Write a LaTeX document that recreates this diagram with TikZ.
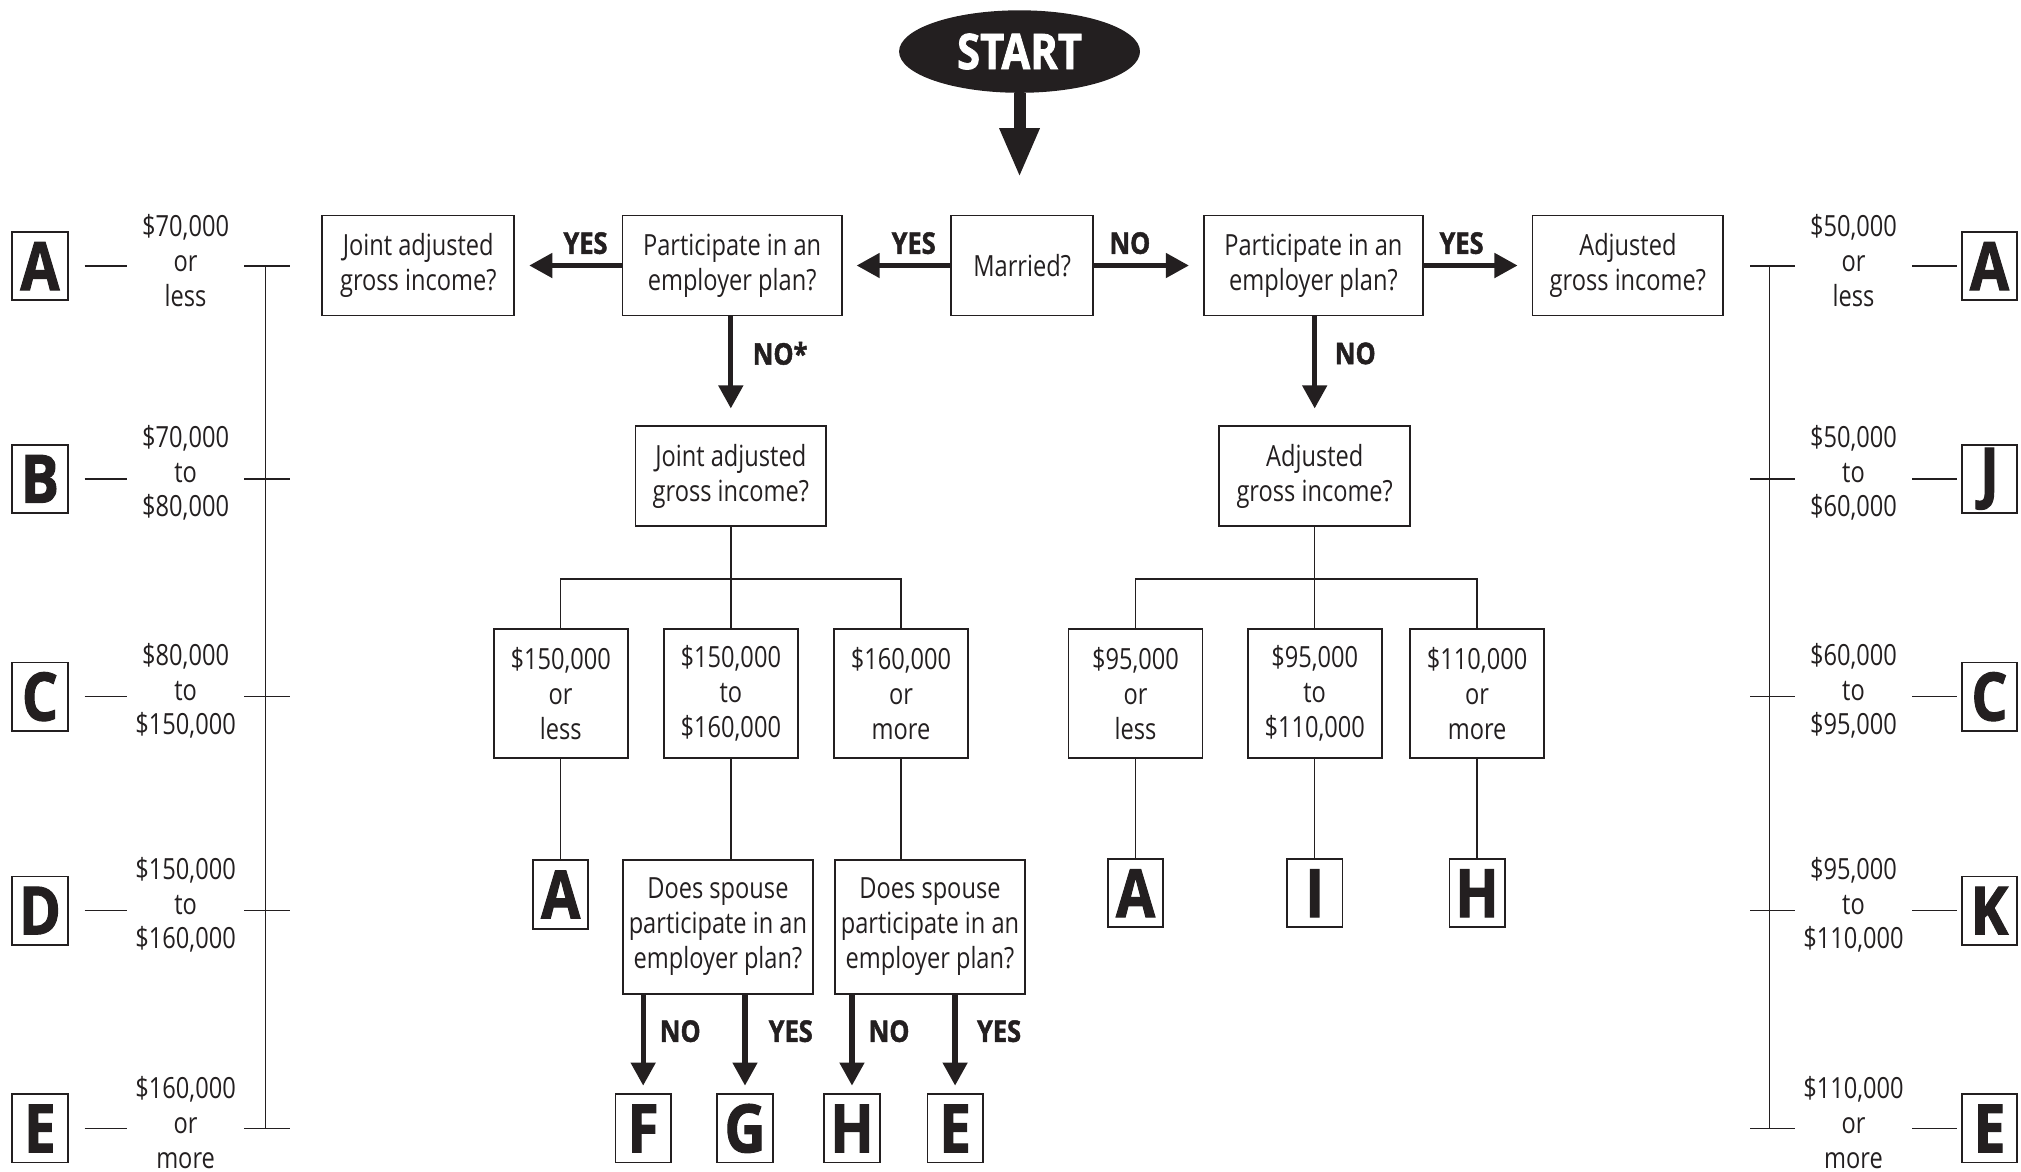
\documentclass[tikz,border=0pt]{standalone}
\usepackage{fontspec}
\usetikzlibrary{arrows.meta,positioning,shapes.geometric}
\newfontfamily\condfont{Open Sans}[FakeStretch=0.81]
\newfontfamily\heavyfont{Open Sans}[FakeStretch=0.85,FakeBold=1.5]
\definecolor{cInk}{HTML}{231F20}
\tikzset{
  box/.style ={draw=cInk,line width=0.5pt,align=center,inner sep=0pt,text=cInk,
               font=\condfont\fontsize{8.3}{9.9}\selectfont},
  qbox/.style={box,minimum height=1.0cm},
  ibox/.style={box,minimum width=1.341cm,minimum height=1.289cm},
  sbox/.style={box,minimum width=1.895cm,minimum height=1.341cm},
  lbox/.style={box,minimum width=0.554cm,minimum height=0.683cm,
               font=\heavyfont\bfseries\fontsize{19}{19}\selectfont},
  rng/.style ={align=center,inner sep=0pt,minimum width=1.16cm,text=cInk,
               font=\condfont\fontsize{8.3}{9.9}\selectfont},
  ar/.style  ={-{Triangle[length=6.6pt,width=6.8pt]},line width=1.5pt,cInk,shorten >=4pt},
  bigar/.style={-{Triangle[length=14pt,width=10.5pt]},line width=3.4pt,cInk,shorten >=10.6pt},
  ln/.style  ={line width=0.45pt,cInk},
  yn/.style  ={font=\heavyfont\bfseries\fontsize{8.5}{9}\selectfont,text=cInk,inner sep=1pt},
}

\begin{document}
\begin{tikzpicture}[x=0.01289cm,y=-0.01289cm]
\useasboundingbox (0,0) rectangle (1568,909);
% start and first questions
\node[ellipse,fill=cInk,minimum width=2.41cm,minimum height=0.825cm,inner sep=0pt,text=white,
      font=\heavyfont\bfseries\fontsize{14}{14}\selectfont] (start) at (791,40) {START};
\node[qbox,minimum width=1.418cm] (married) at (793,206) {Married?};
\node[qbox,minimum width=2.191cm] (partL) at (568,206) {Participate in an\\employer plan?};
\node[qbox,minimum width=1.921cm] (jointT) at (324.5,206) {Joint adjusted\\gross income?};
\node[qbox,minimum width=2.191cm] (partR) at (1019,206) {Participate in an\\employer plan?};
\node[qbox,minimum width=1.908cm] (adjT) at (1263,206) {Adjusted\\gross income?};
\draw[bigar] (start.south) -- (start.south |- married.north);
\draw[ar] (married) -- node[yn,pos=0.34,above=1.5pt]{YES} (partL);
\draw[ar] (partL) -- node[yn,pos=0.34,above=1.5pt]{YES} (jointT);
\draw[ar] (married) -- node[yn,pos=0.33,above=1.5pt]{NO} (partR);
\draw[ar] (partR) -- node[yn,pos=0.35,above=1.5pt]{YES} (adjT);

% not covered by a plan
\node[qbox,minimum width=1.908cm] (jointM) at (567,369.5) {Joint adjusted\\gross income?};
\node[qbox,minimum width=1.908cm] (adjM) at (1020,369.5) {Adjusted\\gross income?};
\draw[ar,shorten >=4.8pt] (partL.south -| jointM) -- node[yn,pos=0.34,right=4.5pt]{NO*} (jointM);
\draw[ar,shorten >=4.8pt] (partR.south -| adjM) -- node[yn,pos=0.34,right=4pt]{NO} (adjM);

% joint income ranges
\node[ibox] (incL1) at (435,538) {\$150,000\\or\\less};
\node[ibox] (incL2) at (567,538) {\$150,000\\to\\\$160,000};
\node[ibox] (incL3) at (699,538) {\$160,000\\or\\more};
\coordinate (barL) at (567,449);
\draw[ln] (jointM) -- (incL2);
\draw[ln] (incL1.north) |- (barL) -| (incL3.north);

% single income ranges
\node[ibox] (incR1) at (881,538) {\$95,000\\or\\less};
\node[ibox] (incR2) at (1020,538) {\$95,000\\to\\\$110,000};
\node[ibox] (incR3) at (1146,538) {\$110,000\\or\\more};
\coordinate (barR) at (1020,449);
\draw[ln] (adjM) -- (incR2);
\draw[ln] (incR1.north) |- (barR) -| (incR3.north);

% outcomes
\node[lbox] (lA) at (435,694) {A};
\node[sbox] (spL) at (557,719) {Does spouse\\participate in an\\employer plan?};
\node[sbox] (spR) at (721.5,719) {Does spouse\\participate in an\\employer plan?};
\draw[ln] (incL1) -- (lA);
\draw[ln] (incL2.south) -- (incL2.south |- spL.north);
\draw[ln] (incL3.south) -- (incL3.south |- spR.north);
\node[lbox] (rA) at (881,693) {A};
\node[lbox] (rI) at (1020,693) {I};
\node[lbox] (rH) at (1146,693) {H};
\draw[ln] (incR1) -- (rA);
\draw[ln] (incR2) -- (rI);
\draw[ln] (incR3) -- (rH);

\node[lbox] (lF) at (499,875.5) {F};
\node[lbox] (lG) at (578,875.5) {G};
\node[lbox] (lH) at (661,875.5) {H};
\node[lbox] (lE) at (741,875.5) {E};
\draw[ar,shorten >=2.2pt] (spL.south -| lF) -- node[yn,pos=0.37,right=3pt]{NO} (lF);
\draw[ar,shorten >=2.2pt] (spL.south -| lG) -- node[yn,pos=0.37,right=5pt]{YES} (lG);
\draw[ar,shorten >=2.2pt] (spR.south -| lH) -- node[yn,pos=0.37,right=3pt]{NO} (lH);
\draw[ar,shorten >=2.2pt] (spR.south -| lE) -- node[yn,pos=0.37,right=4.5pt]{YES} (lE);

% key, joint
\node[lbox] (kA) at (31,206.5) {A}; \node[rng] (vA) at (144,202) {\$70,000\\or\\less};
\node[lbox] (kB) at (31,371.5) {B}; \node[rng] (vB) at (144,367) {\$70,000\\to\\\$80,000};
\node[lbox] (kC) at (31,540.5) {C}; \node[rng] (vC) at (144,536) {\$80,000\\to\\\$150,000};
\node[lbox] (kD) at (31,706.5) {D}; \node[rng] (vD) at (144,702) {\$150,000\\to\\\$160,000};
\node[lbox] (kE) at (31,875.5) {E}; \node[rng] (vE) at (144,871) {\$160,000\\or\\more};
\coordinate (lbar) at (206,0);
\coordinate (ltick) at (225,0);
\foreach \k in {A,B,C,D,E}{
  \draw[ln,shorten <=4.6pt] (k\k.east) -- (k\k -| v\k.west);
  \draw[ln] (k\k -| v\k.east) -- (k\k -| ltick);
}
\draw[ln] (kA -| lbar) -- (kE -| lbar);

% key, single
\node[lbox] (jA) at (1543.5,206.5) {A}; \node[rng] (wA) at (1438,202) {\$50,000\\or\\less};
\node[lbox] (jJ) at (1543.5,371.5) {J}; \node[rng] (wJ) at (1438,367) {\$50,000\\to\\\$60,000};
\node[lbox] (jC) at (1543.5,540.5) {C}; \node[rng] (wC) at (1438,536) {\$60,000\\to\\\$95,000};
\node[lbox] (jK) at (1543.5,706.5) {K}; \node[rng] (wK) at (1438,702) {\$95,000\\to\\\$110,000};
\node[lbox] (jE) at (1543.5,875.5) {E}; \node[rng] (wE) at (1438,871) {\$110,000\\or\\more};
\coordinate (rbar) at (1373,0);
\coordinate (rtick) at (1358,0);
\foreach \k in {A,J,C,K,E}{
  \draw[ln,shorten >=1.2pt] (j\k -| w\k.east) -- (j\k.west);
  \draw[ln] (j\k -| w\k.west) -- (j\k -| rtick);
}
\draw[ln] (jA -| rbar) -- (jE -| rbar);
\end{tikzpicture}
\end{document}
